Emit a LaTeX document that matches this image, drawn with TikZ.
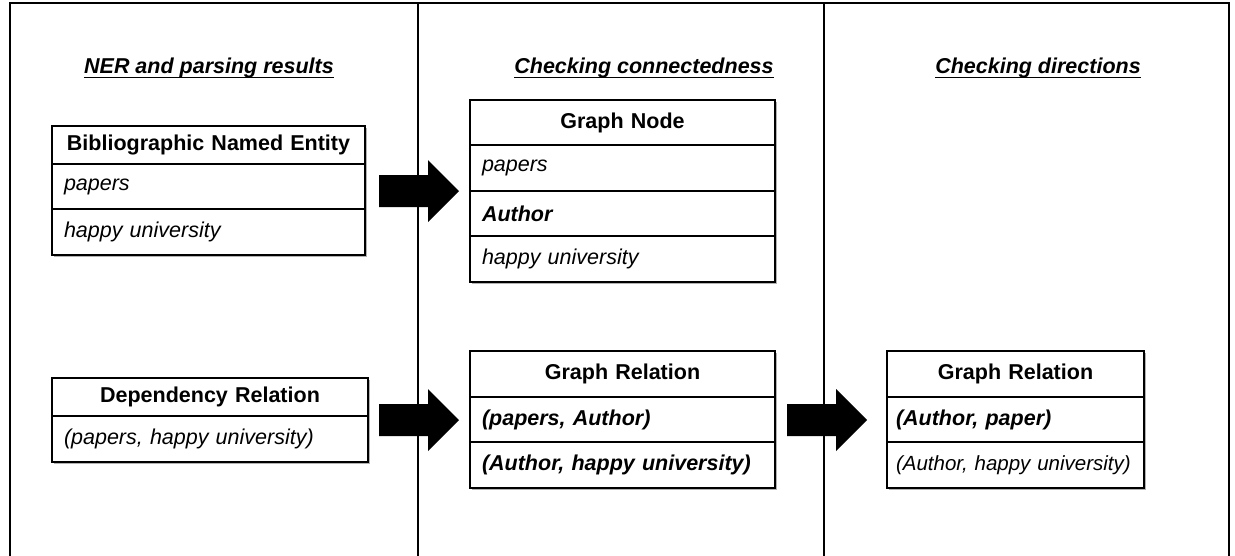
\documentclass[tikz,border=0pt]{standalone}
\usepackage{fontspec}
\setmainfont{Liberation Sans}
\begin{document}
\begin{tikzpicture}[x=1pt,y=-1pt,
  font=\fontsize{21.5}{26}\selectfont,
  frame/.style={draw=black,line width=1.4pt},
  cell/.style={draw=black,fill=white,line width=1.2pt,anchor=north west,inner xsep=12pt,inner ysep=0pt,outer sep=0pt,align=left},
  headcell/.style={cell,align=center,font=\fontsize{21.5}{26}\selectfont\bfseries},
  bodycell/.style={cell,font=\fontsize{21.5}{26}\selectfont\itshape},
  boldcell/.style={cell,font=\fontsize{21.5}{26}\selectfont\bfseries\itshape},
  shadowbox/.style={fill=black!30},
  title/.style={font=\fontsize{21.5}{26}\selectfont\bfseries\itshape,anchor=base,inner sep=0pt},
  uline/.style={line width=1.6pt},
  blockarrow/.pic={\fill[black] (0,-16) -- (49,-16) -- (49,-31) -- (80,0) -- (49,31) -- (49,16) -- (0,16) -- cycle;}
]
\useasboundingbox (0,0) rectangle (1235,555);
% frame and column dividers
\draw[frame] (10,556) -- (10,3) -- (1229,3) -- (1229,556);
\draw[frame] (418,3) -- (418,556);
\draw[frame] (824,3) -- (824,556);

% titles
\node[title] (t1) at (209,73) {NER and parsing results};
\node[title] (t2) at (644,73) {Checking connectedness};
\node[title] (t3) at (1038,73) {Checking directions};
\foreach \t in {t1,t2,t3}{\draw[uline] ([yshift=-4.5pt]\t.base west) -- ([yshift=-4.5pt]\t.base east);}

% shadows
\fill[shadowbox] (54,128) rectangle (367,257);
\fill[shadowbox] (54,380) rectangle (370,464);
\fill[shadowbox] (472,102) rectangle (777,284);
\fill[shadowbox] (472,353) rectangle (777,490);
\fill[shadowbox] (889,353) rectangle (1146,490);

% Bibliographic Named Entity
\node[headcell,text width=289pt,minimum height=38pt] (b0) at (52,126) {Bibliographic Named Entity};
\node[bodycell,text width=289pt,minimum height=45pt] (b1) at (b0.south west) {papers};
\node[bodycell,text width=289pt,minimum height=46pt] (b2) at (b1.south west) {happy university};

% Dependency Relation
\node[headcell,text width=292pt,minimum height=38pt] (d0) at (52,378) {Dependency Relation};
\node[bodycell,text width=292pt,minimum height=46pt] (d1) at (d0.south west) {(papers, happy university)};

% Graph Node
\node[headcell,text width=281pt,minimum height=45pt] (n0) at (470,100) {Graph Node};
\node[bodycell,text width=281pt,minimum height=46pt] (n1) at (n0.south west) {papers};
\node[boldcell,text width=281pt,minimum height=45pt] (n2) at (n1.south west) {Author};
\node[bodycell,text width=281pt,minimum height=46pt] (n3) at (n2.south west) {happy university};

% Graph Relation (middle)
\node[headcell,text width=281pt,minimum height=46pt] (m0) at (470,351) {Graph Relation};
\node[boldcell,text width=281pt,minimum height=45pt] (m1) at (m0.south west) {(papers, Author)};
\node[boldcell,text width=281pt,minimum height=46pt] (m2) at (m1.south west) {(Author, happy university)};

% Graph Relation (right)
\node[headcell,text width=239pt,inner xsep=9pt,minimum height=46pt] (r0) at (887,351) {Graph Relation};
\node[boldcell,text width=239pt,inner xsep=9pt,minimum height=45pt] (r1) at (r0.south west) {(Author, paper)};
\node[bodycell,text width=239pt,inner xsep=9pt,minimum height=46pt,font=\fontsize{20.5}{25}\selectfont\itshape] (r2) at (r1.south west) {\mbox{(Author, happy university)}};

% block arrows
\coordinate (a1) at (379,191);
\coordinate (a2) at (379,420);
\coordinate (a3) at (787,420);
\pic at (a1) {blockarrow};
\pic at (a2) {blockarrow};
\pic at (a3) {blockarrow};
\end{tikzpicture}
\end{document}
